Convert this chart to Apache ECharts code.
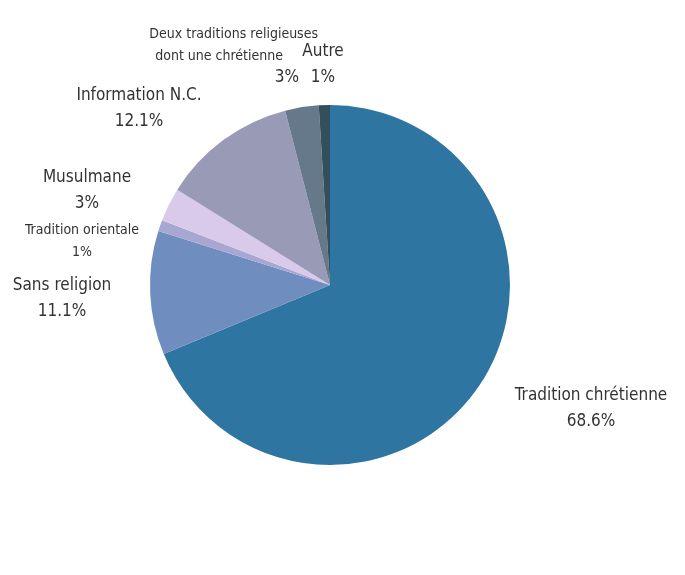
<!DOCTYPE html>
<html>
<head>
<meta charset="utf-8">
<script src="https://cdn.jsdelivr.net/npm/echarts@6/dist/echarts.min.js"></script>
<style>
html,body{margin:0;padding:0;background:#fff;}
#chart{width:685px;height:575px;}
</style>
</head>
<body>
<div id="chart"></div>
<script>
const categories = ['Tradition chrétienne','Sans religion','Tradition orientale','Musulmane','Information N.C.','Deux traditions religieuses dont une chrétienne','Autre'];
const values = [68.6, 11.1, 1, 3, 12.1, 3, 1];
const valueLabels = ['68.6%','11.1%','1%','3%','12.1%','3%','1%'];
const colors = ['#2e75a1','#6f8dbe','#a7a7d2','#dacaea','#999bb6','#66798b','#334f5e'];

// label anchor points (layout only)
const labelPos = [
  {x:591,y:409,align:'center'},
  {x:62,y:299,align:'center'},
  {x:82,y:241,align:'center'},
  {x:87,y:191,align:'center'},
  {x:139,y:109,align:'center'},
  {x:318,y:56,align:'right'},
  {x:323,y:65,align:'center'}
];

const FONT = '"Liberation Sans Narrow","DejaVu Sans Condensed","Roboto Condensed",sans-serif';

const data = categories.map((c,i)=>{
  let label;
  if (i === 5) {
    label = {
      formatter: '{a|Deux traditions religieuses}\n{b|dont une chrétienne}\n{c|' + valueLabels[i] + '}',
      rich: {
        a:{fontSize:14, lineHeight:22, color:'#333', fontFamily:FONT, align:'right'},
        b:{fontSize:14, lineHeight:22, color:'#333', fontFamily:FONT, align:'right', padding:[0,35,0,0]},
        c:{fontSize:17, lineHeight:22, color:'#333', fontFamily:FONT, align:'right', padding:[0,19,0,0]}
      }
    };
  } else if (i === 2) {
    label = {
      formatter: '{a|' + c + '}\n{a|' + valueLabels[i] + '}',
      rich:{a:{fontSize:14, lineHeight:22, color:'#333', fontFamily:FONT}}
    };
  } else {
    label = {
      formatter: '{a|' + c + '}\n{a|' + valueLabels[i] + '}',
      rich:{a:{fontSize:17, lineHeight:26, color:'#333', fontFamily:FONT}}
    };
  }
  return {name:c, value:values[i], itemStyle:{color:colors[i]}, label};
});

const chart = echarts.init(document.getElementById('chart'), null, {renderer:'canvas'});
chart.setOption({
  animation:false,
  backgroundColor:'#fff',
  series:[{
    type:'pie',
    center:[330,285],
    radius:[0,180],
    startAngle:90,
    clockwise:true,
    itemStyle:{borderWidth:0},
    label:{show:true, position:'outside', overflow:'none', alignTo:'none', edgeDistance:0},
    labelLine:{show:false},
    labelLayout:function(p){
      const lp = labelPos[p.dataIndex];
      return {x:lp.x, y:lp.y, align:lp.align, verticalAlign:'middle'};
    },
    data:data
  }]
});
</script>
</body>
</html>
